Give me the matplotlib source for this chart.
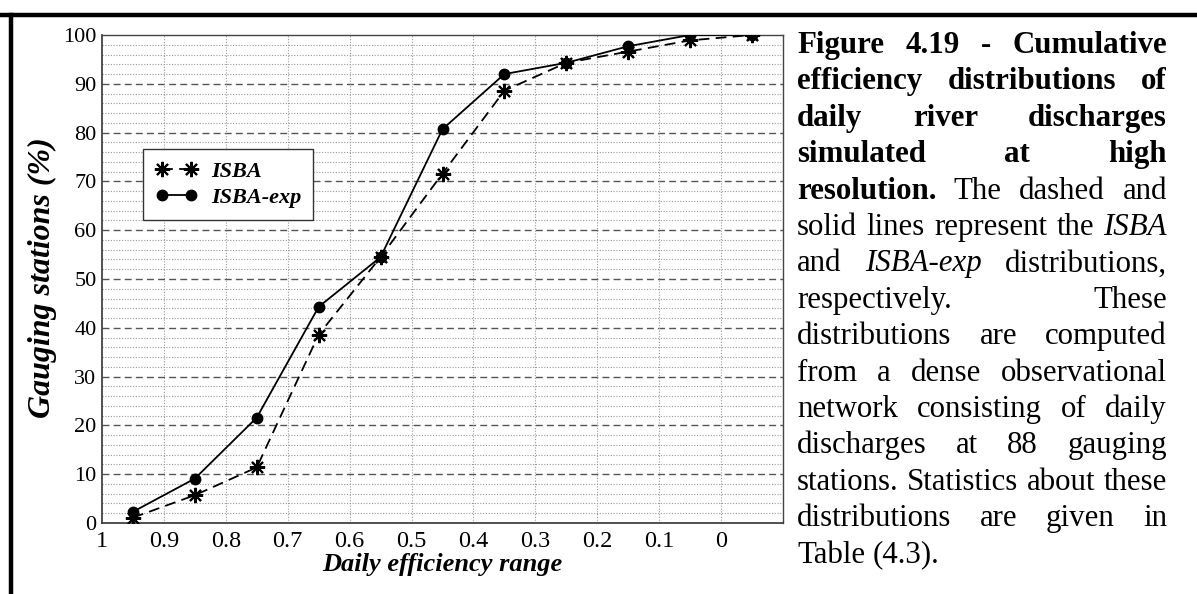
import matplotlib
matplotlib.use("Agg")
import matplotlib.pyplot as plt
from matplotlib.font_manager import FontProperties
from matplotlib.lines import Line2D
import numpy as np

# ---------------- data ----------------
efficiency_bins = [0.95, 0.85, 0.75, 0.65, 0.55, 0.45, 0.35, 0.25, 0.15, 0.05, -0.05]
isba = [1.1, 5.7, 11.4, 38.6, 54.5, 71.6, 88.6, 94.3, 96.6, 98.9, 100.0]
isba_exp = [2.3, 9.1, 21.6, 44.3, 54.5, 80.7, 92.0, 94.3, 97.7, 100.0, 100.0]
x_ticks = [1, 0.9, 0.8, 0.7, 0.6, 0.5, 0.4, 0.3, 0.2, 0.1, 0]
x_tick_labels = ["1", "0.9", "0.8", "0.7", "0.6", "0.5", "0.4", "0.3", "0.2", "0.1", "0"]
y_ticks = list(range(0, 101, 10))
series_labels = ["ISBA", "ISBA-exp"]
x_label = "Daily efficiency range"
y_label = "Gauging stations (%)"

caption_lines = [
    [("Figure", "b"), ("4.19", "b"), ("-", "b"), ("Cumulative", "b")],
    [("efficiency", "b"), ("distributions", "b"), ("of", "b")],
    [("daily", "b"), ("river", "b"), ("discharges", "b")],
    [("simulated", "b"), ("at", "b"), ("high", "b")],
    [("resolution.", "b"), ("The", "r"), ("dashed", "r"), ("and", "r")],
    [("solid", "r"), ("lines", "r"), ("represent", "r"), ("the", "r"), ("ISBA", "i")],
    [("and", "r"), ("ISBA-exp", "i"), ("distributions,", "r")],
    [("respectively.", "r"), ("These", "r")],
    [("distributions", "r"), ("are", "r"), ("computed", "r")],
    [("from", "r"), ("a", "r"), ("dense", "r"), ("observational", "r")],
    [("network", "r"), ("consisting", "r"), ("of", "r"), ("daily", "r")],
    [("discharges", "r"), ("at", "r"), ("88", "r"), ("gauging", "r")],
    [("stations.", "r"), ("Statistics", "r"), ("about", "r"), ("these", "r")],
    [("distributions", "r"), ("are", "r"), ("given", "r"), ("in", "r")],
    [("Table", "r"), ("(4.3).", "r")],
]

# ---------------- figure ----------------
W, H = 1197, 594
DPI = 100
fig = plt.figure(figsize=(W / DPI, H / DPI), dpi=DPI)
fig.patch.set_facecolor("white")

serif = "Liberation Serif"

# axes in pixel coords
ax_l, ax_r, ax_t, ax_b = 102, 783, 35, 523
ax = fig.add_axes([ax_l / W, (H - ax_b) / H, (ax_r - ax_l) / W, (ax_b - ax_t) / H])

ax.set_xlim(1.0, -0.1)
ax.set_ylim(0, 100)

# grid
for yv in np.arange(2, 100, 2):
    if yv % 10 == 0:
        ax.axhline(yv, color="#555555", lw=1.0, ls=(0, (5, 3)), zorder=1)
    else:
        ax.axhline(yv, color="#9a9a9a", lw=0.8, ls=(0, (1, 1.5)), zorder=1)
for xv in x_ticks[1:]:
    ax.axvline(xv, color="#9a9a9a", lw=0.8, ls=(0, (1, 1.5)), zorder=1)

ax.plot(efficiency_bins, isba, color="black", lw=1.3, ls=(0, (6, 3.5)),
        marker=(8, 2, 0), markersize=11, markeredgewidth=1.5, zorder=3, label=series_labels[0])
ax.plot(efficiency_bins, isba_exp, color="black", lw=1.3, ls="-",
        marker="o", markersize=7.5, zorder=3, label=series_labels[1])

ax.set_xticks(x_ticks)
ax.set_xticklabels(x_tick_labels, fontfamily=serif, fontsize=17.5)
ax.set_yticks(y_ticks)
ax.set_yticklabels([str(v) for v in y_ticks], fontfamily=serif, fontsize=16)
ax.tick_params(length=0, pad=4, colors="black")
ax.tick_params(axis="x", pad=6)

for s in ["left", "bottom"]:
    ax.spines[s].set_color("#333333")
    ax.spines[s].set_linewidth(1.2)
for s in ["top", "right"]:
    ax.spines[s].set_color("#444444")
    ax.spines[s].set_linewidth(1.0)

leg = ax.legend(loc="upper left", bbox_to_anchor=((143 - ax_l) / (ax_r - ax_l), (ax_b - 149) / (ax_b - ax_t)),
                borderaxespad=0, numpoints=2, handlelength=1.9, handletextpad=0.6,
                fancybox=False, framealpha=1, edgecolor="#333333", borderpad=0.55, labelspacing=0.25,
                prop=FontProperties(family=serif, weight="bold", style="italic", size=16))
leg.get_frame().set_linewidth(1.0)

fig.text((ax_l + ax_r) / 2 / W, 1 - 565 / H, x_label, ha="center", va="center",
         fontfamily=serif, fontweight="bold", fontstyle="italic", fontsize=19)
fig.text(42 / W, 1 - 278 / H, y_label, ha="center", va="center", rotation=90,
         fontfamily=serif, fontweight="bold", fontstyle="italic", fontsize=23)

# page frame (thick top and left rules)
fig.add_artist(Line2D([0, 1], [1 - 15 / H, 1 - 15 / H], transform=fig.transFigure, color="black", lw=3.2))
fig.add_artist(Line2D([11 / W, 11 / W], [0, 1 - 15 / H], transform=fig.transFigure, color="black", lw=3.2))

# ---------------- justified caption ----------------
fig.canvas.draw()
renderer = fig.canvas.get_renderer()
x0, x1 = 797, 1167

def text_w(s, fp):
    w, h, d = renderer.get_text_width_height_descent(s, fp, ismath=False)
    return w

# size chosen so the naturally-spaced line fills the column width
probe = FontProperties(family=serif, size=20)
nat = text_w("stations. Statistics about these", probe)
cap_size = 20 * (x1 - x0) / nat * 0.995
props = {
    "b": FontProperties(family=serif, weight="bold", size=cap_size),
    "r": FontProperties(family=serif, size=cap_size),
    "i": FontProperties(family=serif, style="italic", size=cap_size),
}

base0, spacing = 53, 36.4
space_w = text_w("a a", props["r"]) - 2 * text_w("a", props["r"])
for k, line in enumerate(caption_lines):
    widths = [text_w(w, props[st]) for w, st in line]
    last = (k == len(caption_lines) - 1)
    if last or len(line) == 1:
        gap = space_w
    else:
        gap = max(space_w * 0.6, (x1 - x0 - sum(widths)) / (len(line) - 1))
    x = x0
    yb = base0 + spacing * k
    for (w, st), wd in zip(line, widths):
        fig.text(x / W, 1 - yb / H, w, fontproperties=props[st], ha="left", va="baseline")
        x += wd + gap

fig.savefig("out.png", dpi=DPI)
